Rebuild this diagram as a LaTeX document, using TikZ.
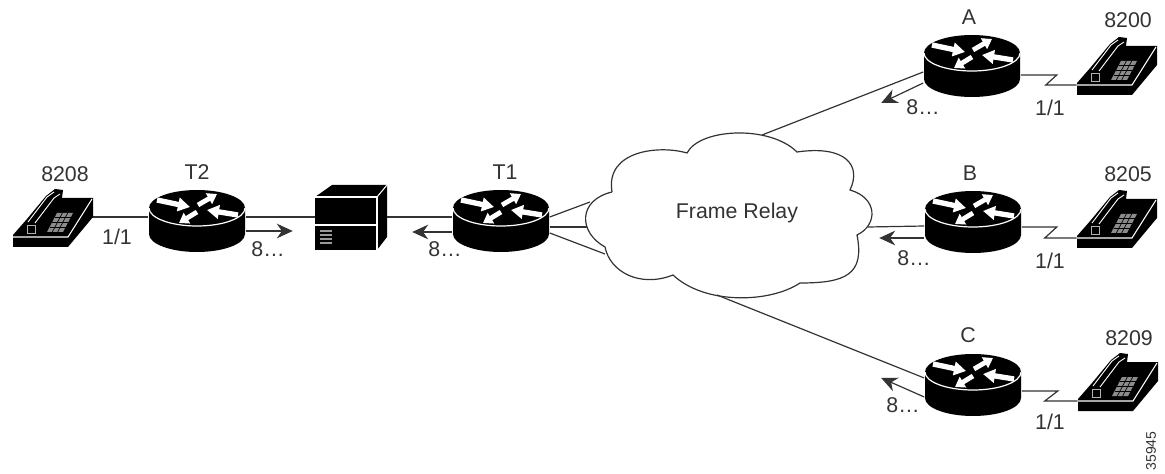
\documentclass[tikz,border=0pt]{standalone}
\usepackage{fontspec}
\setmainfont{Liberation Sans}
\usetikzlibrary{arrows.meta,calc}

\tikzset{
  every node/.style={font=\fontsize{16}{18}\selectfont,text=black!80},
  routerbox/.style={minimum width=72.75pt,minimum height=47.25pt,inner sep=0pt},
  phonebox/.style={minimum width=60pt,minimum height=44pt,inner sep=0pt},
  wire/.style={line width=0.9pt,black!80},
  flow/.style={line width=0.9pt,black!80,-{Stealth[length=12pt,width=11pt]}},
  inarrow/.style={white,line width=4pt,-{Triangle[length=9pt,width=10pt]}},
  outarrow/.style={white,line width=3.6pt,-{Triangle[length=7pt,width=9pt]}},
  router/.pic={
    \fill[black] (-48,-13) -- (-48,13) arc[start angle=180,end angle=0,x radius=48,y radius=18]
      -- (48,-13) arc[start angle=0,end angle=-180,x radius=48,y radius=18] -- cycle;
    \draw[white,line width=0.9pt] (-48,-13) arc[start angle=180,end angle=0,x radius=48,y radius=18];
    \draw[inarrow] (-40,-21) -- (-7,-14);
    \draw[inarrow] (41,-6) -- (10,-11);
    \draw[outarrow] (1,-16) -- (20,-27);
    \draw[outarrow] (0,-9) -- (-18,2);
  },
  phone/.pic={
    \fill[black] (-40,17) -- (-26,1) -- (-7,-22) -- (2,-29) -- (10,-28) -- (9,-20) -- (40,-20) -- (40,-1) -- (15,29) -- (-40,29) -- cycle;
    \draw[white,line width=0.8pt] (-40,19) -- (15,19) -- (39,-19);
    \draw[white,line width=0.7pt] (-25,4) -- (-6,-21) -- (1,-26);
    \draw[white,line width=0.7pt] (-18,5) -- (1,-20) -- (7,-24);
    \draw[black!30,line width=0.7pt] (-26,7) -- (-26,15) -- (-18,15) -- (-18,7) -- cycle;
    \fill[black!45] (-6,14) -- (10,14) -- (20,-5) -- (4,-5) -- cycle;
    \foreach \k in {1,2,3}
      \draw[black,line width=0.5pt] ($(-6,14)!\k/4!(4,-5)$) -- ($(10,14)!\k/4!(20,-5)$);
    \foreach \k in {1,2}
      \draw[black,line width=0.5pt] ($(-6,14)!\k/3!(10,14)$) -- ($(4,-5)!\k/3!(20,-5)$);
  }
}

\begin{document}
\begin{tikzpicture}[x=0.75pt,y=-0.75pt]
  \useasboundingbox (0,0) rectangle (1165,474);
  % routers and phones
  \node [routerbox] (T2) at (197,221) {};
  \node [routerbox] (T1) at (501,221) {};
  \node [routerbox] (A) at (972,66) {};
  \node [routerbox] (B) at (973,222) {};
  \node [routerbox] (C) at (973,385) {};
  \node [phonebox] (p8208) at (53,218) {};
  \node [phonebox] (p8200) at (1117,66) {};
  \node [phonebox] (p8205) at (1117,219) {};
  \node [phonebox] (p8209) at (1118,382) {};
  \node [minimum width=54pt,minimum height=49pt,inner sep=0pt] (server) at (351,217) {};
  % cloud
  \coordinate (ca) at (762,135);
  \coordinate (cb) at (868,227);
  \coordinate (cc) at (717,295);
  \coordinate (ct1) at (590,202);
  \coordinate (ct2) at (587,227);
  \coordinate (ct3) at (605,254);
  \draw [line width=0.9pt,draw=black!80] (612,192)
    .. controls (605,150) and (660,145) .. (687,153)
    .. controls (700,128) and (770,125) .. (797,152)
    .. controls (845,145) and (862,165) .. (850,190)
    .. controls (878,198) and (878,225) .. (857,235)
    .. controls (865,275) and (845,283) .. (800,283)
    .. controls (770,303) and (705,305) .. (673,275)
    .. controls (640,288) and (610,272) .. (605,247)
    .. controls (578,232) and (578,200) .. (612,192);
  \node (frame) at (737,213) {Frame Relay};
  % connectors
  \draw [wire] ($(p8208.east)+(-1,-1)$) -- ($(T2.west)+(0,-4)$);
  \draw [wire] ($(T2.east)+(0,-4)$) -- (server.west);
  \draw [wire] (server.east) -- ($(T1.west)+(0,-4)$);
  \draw [flow] ($(T2.east)+(0,10)$) -- +(47,0);
  \draw [flow] ($(T1.west)+(0,11)$) -- +(-40,0);
  \draw [wire] ($(T1.east)+(0,-4)$) -- (ct1);
  \draw [wire] ($(T1.east)+(0,6)$) -- (ct2);
  \draw [wire] ($(T1.east)+(0,12)$) -- (ct3);
  \draw [wire] (ca) -- ($(A.west)+(0,6)$);
  \draw [flow] ($(A.west)+(0,17)$) -- +(-42,20);
  \draw [wire] (cb) -- ($(B.west)+(0,4)$);
  \draw [flow] ($(B.west)+(0,16)$) -- +(-45,0);
  \draw [wire] (cc) -- ($(C.west)+(0,-7)$);
  \draw [flow] ($(C.west)+(0,12)$) -- +(-43,-19);
  \draw [wire] ($(A.east)+(0,9)$) -- +(36,0) -- +(25,10) -- ($(p8200.west)+(0,19)$);
  \draw [wire] ($(B.east)+(0,5)$) -- +(35,0) -- +(23,11) -- ($(p8205.west)+(0,19)$);
  \draw [wire] ($(C.east)+(0,6)$) -- +(36,0) -- +(23,10) -- ($(p8209.west)+(0,19)$);
  % drawings on top of the wires
  \foreach \n in {T2,T1,A,B,C}
    \pic at (\n) {router};
  \foreach \n in {p8208,p8200,p8205,p8209}
    \pic at (\n) {phone};
  % server
  \fill[black] (315,197) -- (332,185) -- (387,185) -- (387,237) -- (377,250) -- (315,250) -- cycle;
  \draw[white,line width=0.8pt] (315,197) -- (377,197) -- (377,250);
  \draw[white,line width=0.8pt] (377,197) -- (387,185);
  \draw[white,line width=0.8pt] (315,225) -- (377,225);
  \foreach \y in {231,235,239,243}
    \draw[black!40,line width=1pt] (320,\y) -- (332,\y);
  % labels
  \node (l8208) at (65,174) {8208};
  \node (lT2) at (197,172) {T2};
  \node (w1) at (117,237) {1/1};
  \node (d1) at (268,249) {8\dots};
  \node (lT1) at (505,172) {T1};
  \node (d2) at (445,249) {8\dots};
  \node (lA) at (969,17) {A};
  \node (l8200) at (1128,20) {8200};
  \node (d3) at (923,107) {8\dots};
  \node (w2) at (1050,108) {1/1};
  \node (lB) at (970,173) {B};
  \node (l8205) at (1128,174) {8205};
  \node (d4) at (914,258) {8\dots};
  \node (w3) at (1050,261) {1/1};
  \node (lC) at (968,335) {C};
  \node (l8209) at (1129,338) {8209};
  \node (d5) at (903,405) {8\dots};
  \node (w4) at (1050,422) {1/1};
  \node [rotate=90,font=\fontsize{10.5}{12}\selectfont] (ref) at (1151,451) {35945};
\end{tikzpicture}
\end{document}
